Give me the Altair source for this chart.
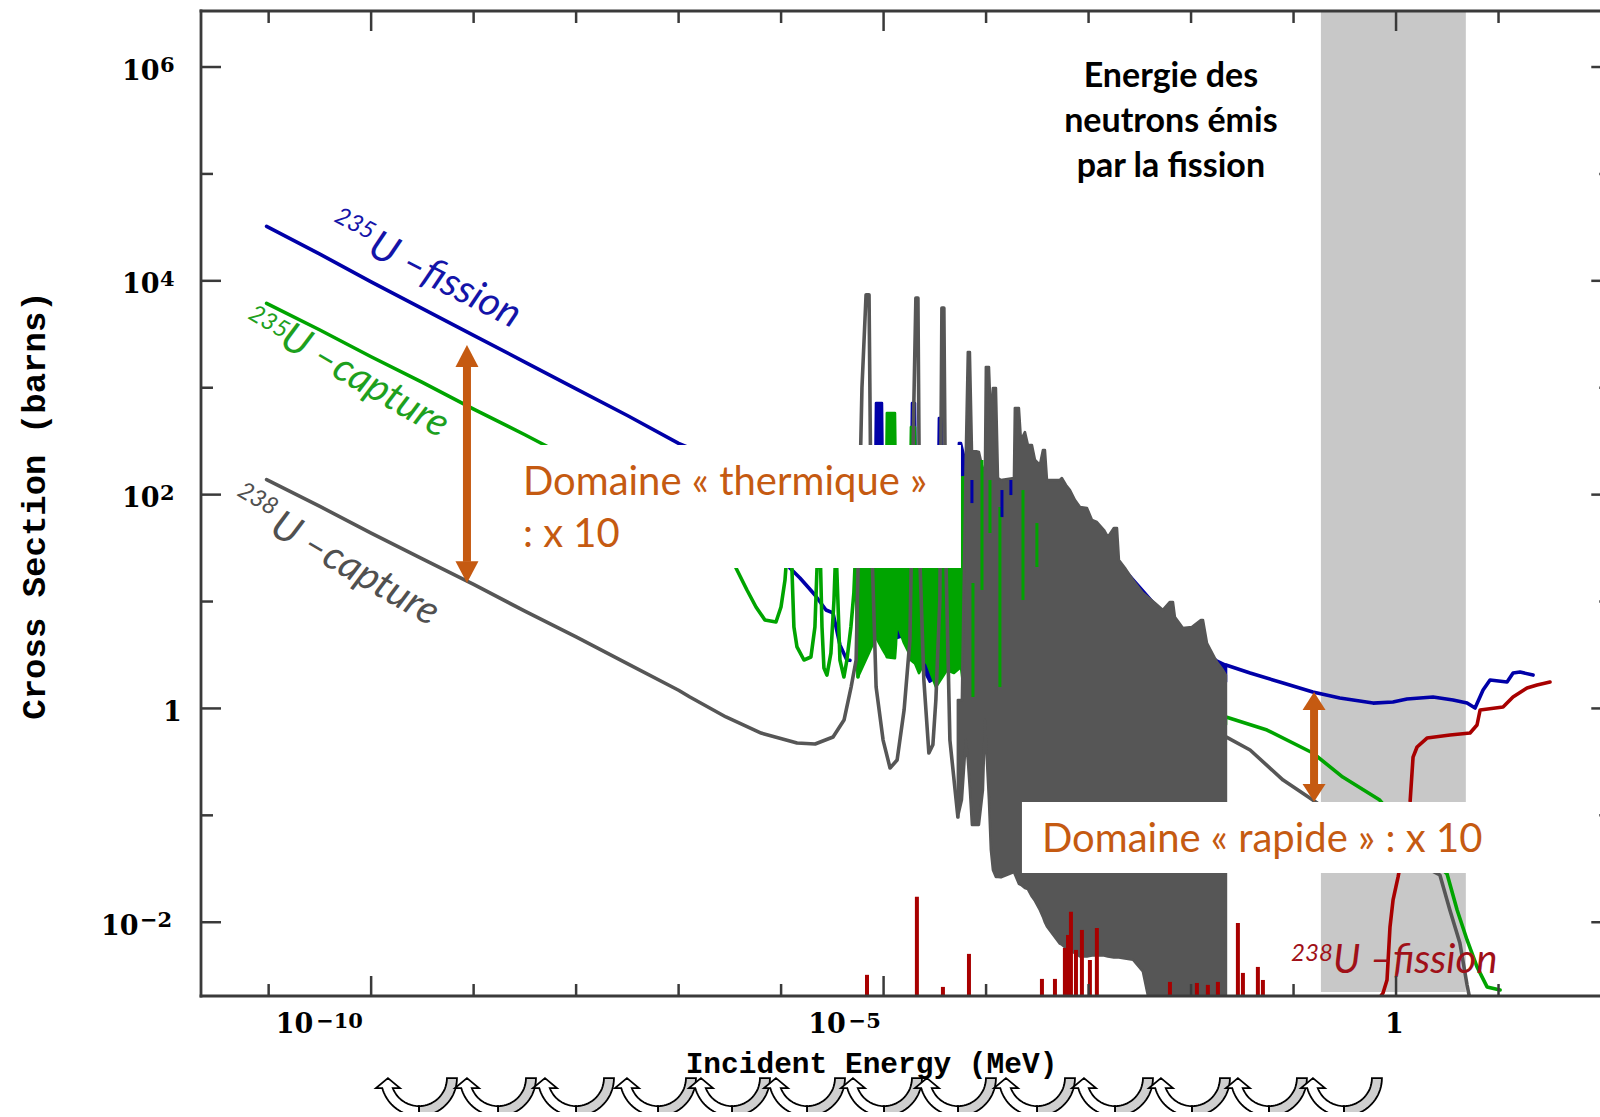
import numpy as np
import pandas as pd
import altair as alt

# ---------------- axis extents (log10 units) ----------------
X_MIN, X_MAX = -11.66, 1.99      # incident energy (MeV)
Y_MIN, Y_MAX = -2.69, 6.524      # cross section (barns)

# tick labels: (decade, mantissa text, exponent text)
Y_LABELS = [(6, "10", "6"), (4, "10", "4"), (2, "10", "2"), (0, "1", ""), (-2, "10", "−2")]
X_LABELS = [(-10, "10", "−10"), (-5, "10", "−5"), (0, "1", "")]

BLUE, GREEN, GRAY, RED = "#0000a8", "#00a400", "#565656", "#a80000"
BAND, ORANGE, AXIS = "#c8c8c8", "#c55a11", "#3a3a3a"

# ---------------- data (log10 E [MeV], log10 sigma [b]) ----------------
# U-235 fission (blue)
u5f_low_logE = [-11.02, -10.5, -10.0, -9.5, -9.0, -8.5, -8.0, -7.5, -7.0, -6.8, -6.6, -6.54,
                -6.48, -6.3, -6.1, -5.914, -5.816, -5.738, -5.67, -5.562, -5.494, -5.426, -5.358, -5.328]
u5f_low_logS = [4.51, 4.25, 3.99, 3.74, 3.49, 3.24, 2.99, 2.74, 2.48, 2.40, 2.35, 2.40,
                2.30, 2.0, 1.6, 1.313, 1.22, 1.136, 1.061, 0.921, 0.893, 0.594, 0.453, 0.45]
u5f_res_logE = [-5.25, -5.143, -5.084, -5.074, -5.016, -5.006, -4.8, -4.733, -4.723, -4.694, -4.684,
                -4.55, -4.47, -4.46, -4.431, -4.421, -4.275, -4.265, -4.245, -4.158, -3.865, -3.328,
                -2.714, -2.1, -1.75, -1.659]
u5f_res_top = [2.0, 2.0, 2.0, 2.857, 2.857, 2.0, 2.0, 2.0, 2.857, 2.857, 2.0,
               2.0, 2.0, 2.717, 2.717, 2.0, 2.0, 2.483, 2.483, 2.137, 2.043, 1.734,
               1.37, 0.7, 0.45, 0.406]
u5f_res_bot = [0.40, 0.60, 0.72, 0.72, 0.62, 0.62, 0.68, 0.55, 0.55, 0.50, 0.50,
               0.25, 0.30, 0.30, 0.30, 0.35, 0.40, 0.40, 0.40, 0.2, 0.1, 0.0,
               0.0, -0.2, 0.1, 0.25]
u5f_fast_logE = [-1.659, -1.424, -1.102, -0.812, -0.549, -0.224, -0.03, 0.107, 0.361, 0.556,
                 0.693, 0.771, 0.849, 0.917, 1.083, 1.142, 1.21, 1.337]
u5f_fast_logS = [0.406, 0.331, 0.238, 0.153, 0.097, 0.05, 0.06, 0.088, 0.107, 0.079,
                 0.05, 0.004, 0.172, 0.266, 0.247, 0.331, 0.34, 0.312]
u5f_strand_logE = [-4.138, -3.845, -3.758]
u5f_strand_top = [2.137, 2.043, 2.137]
u5f_strand_bot = [1.921, 1.79, 1.996]

# U-235 capture (green)
u5c_low_logE = [-11.02, -10.5, -10.0, -9.5, -9.0, -8.5, -8.0, -7.5, -7.0, -6.8, -6.6, -6.54, -6.48,
                -6.44, -6.333, -6.245, -6.158, -6.05, -6.001, -5.962, -5.933, -5.904, -5.875, -5.845,
                -5.777, -5.709, -5.67, -5.64, -5.621, -5.601, -5.582, -5.553, -5.514, -5.484, -5.465,
                -5.446, -5.426, -5.387, -5.358, -5.319, -5.29, -5.27, -5.25]
u5c_low_logS = [3.79, 3.54, 3.29, 3.05, 2.80, 2.56, 2.31, 2.07, 1.85, 1.8, 2.0, 2.2, 1.9,
                1.313, 1.108, 0.949, 0.827, 0.808, 0.949, 1.201, 1.575, 1.575, 0.762, 0.575,
                0.453, 0.481, 0.762, 1.575, 1.575, 0.762, 0.378, 0.312, 0.518, 1.014, 1.528,
                1.014, 0.453, 0.294, 0.453, 0.762, 1.08, 1.528, 0.294]
u5c_res_logE = [-5.25, -5.143, -5.075, -5.006, -4.977, -4.968, -4.889, -4.879, -4.87, -4.801,
                -4.743, -4.733, -4.694, -4.684, -4.655, -4.587, -4.489, -4.382, -4.314, -4.245,
                -4.206, -4.158, -3.865, -3.3, -2.7, -2.1, -1.659]
u5c_res_top = [2.0, 2.0, 2.0, 2.0, 2.0, 2.764, 2.764, 2.0, 2.0, 2.0,
               2.0, 2.633, 2.633, 2.0, 2.0, 2.0, 2.0, 2.0, 2.0, 2.16,
               2.165, 2.2, 1.9, 1.6, 1.2, 0.5, -0.08]
u5c_res_bot = [0.294, 0.518, 0.668, 0.546, 0.5, 0.48, 0.47, 0.6, 0.799, 0.612,
               0.5, 0.45, 0.42, 0.4, 0.331, 0.453, 0.2, 0.359, 0.331, 0.387,
               0.079, 0.1, 0.0, -0.2, -0.3, -0.3, -0.15]
u5c_fast_logE = [-1.659, -1.259, -0.812, -0.52, -0.159, 0.166, 0.498, 0.596, 0.693, 0.79, 0.888, 1.015]
u5c_fast_logS = [-0.08, -0.202, -0.417, -0.642, -0.857, -1.235, -1.548, -1.885, -2.166, -2.418, -2.605, -2.634]
u5c_strand_logE = [-4.128, -4.04, -3.962, -3.865, -3.64, -3.504]
u5c_strand_top = [1.173, 2.324, 2.137, 1.884, 2.043, 1.734]
u5c_strand_bot = [0.107, 1.108, 1.641, 0.2, 1.014, 1.323]

# U-238 capture (gray)
u8c_low_logE = [-11.02, -10.5, -10.0, -9.5, -9.0, -8.5, -8.0, -7.5, -7.0, -6.89, -6.538, -6.195,
                -5.844, -5.668, -5.493, -5.386, -5.317, -5.268, -5.211, -5.171, -5.142, -5.122,
                -5.073, -5.005, -4.937, -4.868, -4.8, -4.743, -4.704, -4.685, -4.665, -4.646,
                -4.607, -4.558, -4.519, -4.49, -4.451, -4.431, -4.412, -4.392, -4.353, -4.275]
u8c_low_logS = [2.14, 1.89, 1.64, 1.40, 1.16, 0.91, 0.67, 0.42, 0.17, 0.107, -0.08, -0.23,
                -0.324, -0.333, -0.267, -0.109, 0.2, 0.453, 3.0, 3.87, 3.87, 1.76,
                0.2, -0.296, -0.557, -0.483, -0.015, 0.64, 2.89, 3.84, 3.84, 1.39,
                0.265, -0.417, -0.34, 0.078, 1.013, 3.745, 3.745, 1.39, -0.296, -1.016]
u8c_res_logE = [-4.275, -4.236, -4.197, -4.178, -4.158, -4.138, -4.07, -4.031, -4.011, -4.002,
                -3.972, -3.953, -3.933, -3.904, -3.884, -3.855, -3.728, -3.719, -3.68, -3.66,
                -3.621, -3.592, -3.553, -3.523, -3.475, -3.445, -3.426, -3.406, -3.28, -3.26,
                -3.221, -3.182, -3.133, -3.084, -3.016, -2.967, -2.919, -2.85, -2.811, -2.753,
                -2.723, -2.704, -2.645, -2.567, -2.47, -2.353, -2.275, -2.206, -2.177, -2.158,
                -2.08, -1.992, -1.904, -1.884, -1.845, -1.748, -1.689, -1.66]
u8c_res_top = [0.079, 0.079, 2.418, 3.334, 3.334, 2.418, 2.399, 2.231, 2.231, 3.194,
               3.194, 2.698, 2.998, 2.998, 2.155, 2.137, 2.155, 2.81, 2.81, 2.51,
               2.585, 2.464, 2.464, 2.324, 2.277, 2.417, 2.417, 2.137, 2.137, 2.155,
               2.09, 2.043, 1.95, 1.884, 1.875, 1.762, 1.744, 1.669, 1.603, 1.688,
               1.688, 1.388, 1.313, 1.201, 1.08, 0.986, 0.921, 0.996, 0.996, 0.855,
               0.752, 0.762, 0.827, 0.827, 0.612, 0.434, 0.359, 0.312]
u8c_res_bot = [-1.016, -0.857, -0.296, -0.483, -0.763, -1.09, -1.09, -0.763, -0.109, -0.296,
               -0.857, -1.324, -1.511, -1.576, -1.576, -1.58, -1.53, -1.55, -1.64, -1.65,
               -1.68, -1.69, -1.76, -1.80, -1.885, -1.95, -2.00, -2.04, -2.20, -2.21,
               -2.24, -2.26, -2.29, -2.32, -2.32, -2.31, -2.31, -2.31, -2.32, -2.33,
               -2.33, -2.33, -2.34, -2.35, -2.46, -3.0, -3.0, -3.0, -3.0, -3.0,
               -3.0, -3.0, -3.0, -3.0, -3.0, -3.0, -3.0, -3.0]
u8c_fast_logE = [-1.659, -1.424, -1.102, -0.812, -0.3, 0.428, 0.525, 0.623, 0.693, 0.722]
u8c_fast_logS = [-0.266, -0.389, -0.67, -0.857, -1.2, -1.558, -1.885, -2.194, -2.587, -2.727]

# U-238 fission (red)
u8f_spike_logE = [-5.162, -4.675, -4.421, -4.167, -3.455, -3.328, -3.231, -3.201, -3.172, -3.123,
                  -3.065, -2.987, -2.919, -2.206, -1.943, -1.836, -1.738, -1.543, -1.494, -1.348, -1.299]
u8f_spike_logS = [-2.492, -1.762, -2.605, -2.296, -2.53, -2.53, -2.24, -2.119, -1.903, -2.259,
                  -2.072, -2.353, -2.054, -2.558, -2.568, -2.586, -2.558, -2.006, -2.474, -2.418, -2.54]
u8f_fast_logE = [-0.176, -0.127, -0.088, -0.059, -0.029, 0.02, 0.088, 0.137, 0.166, 0.205, 0.302,
                 0.527, 0.722, 0.79, 0.82, 1.044, 1.112, 1.141, 1.278, 1.376, 1.502]
u8f_fast_logS = [-2.727, -2.662, -2.54, -2.044, -1.791, -1.576, -1.23, -0.875, -0.455, -0.361, -0.277,
                 -0.249, -0.23, -0.155, -0.015, 0.013, 0.079, 0.107, 0.191, 0.219, 0.247]
SPIKE_FLOOR = -3.2

# fission-neutron energy band
band_logE = [-0.733, 0.681]
band_logS = [-2.653, Y_MAX]

# annotation boxes, arrows
box_thermal = ([-8.645, -4.245], [1.313, 2.464])
box_fast = ([-3.65, 0.964], [-1.54, -0.876])
arrow_logE = [-9.065, -0.8]
arrow_top = [3.399, 0.153]
arrow_bot = [1.173, -0.874]
curl_logE = [-9.553, -8.782, -8.021, -7.221, -6.499, -5.767, -5.016, -4.294, -3.523, -2.762,
             -2.011, -1.26, -0.528]
CURL_LOGS = -3.645

# ---------------- scales & axes ----------------
xscale = alt.Scale(type="log", domain=[10 ** X_MIN, 10 ** X_MAX], nice=False)
yscale = alt.Scale(type="log", domain=[10 ** Y_MIN, 10 ** Y_MAX], nice=False)

x_axis = alt.Axis(labels=False, ticks=False, tickSize=0, domain=False, grid=False,
                  title="Incident Energy (MeV)",
                  titleFont="Liberation Mono", titleFontWeight="bold", titleFontSize=29.5,
                  titleColor="black", titleX=670, titleY=67, titleAlign="center",
                  titleBaseline="middle", titleAngle=0)
y_axis = alt.Axis(labels=False, ticks=False, tickSize=0, domain=False, grid=False,
                  title="Cross Section (barns)",
                  titleFont="Liberation Mono", titleFontWeight="bold", titleFontSize=34,
                  titleColor="black", titleX=-167, titleY=494, titleAlign="center",
                  titleBaseline="middle", titleAngle=270)

def X():
    return alt.X("E:Q", scale=xscale, axis=x_axis)

def Y():
    return alt.Y("S:Q", scale=yscale, axis=y_axis)

def p10(v):
    return np.power(10.0, np.asarray(v, dtype=float))

def pts(le, ls):
    return pd.DataFrame({"E": p10(le), "S": p10(ls), "i": np.arange(len(le))})

def bands(le, top, bot):
    return pd.DataFrame({"E": p10(le), "S": p10(top), "S2": p10(bot), "i": np.arange(len(le))})

LW = 3.6

def line(df, color, w=LW):
    return alt.Chart(df).mark_line(color=color, strokeWidth=w, strokeJoin="round",
                                   strokeCap="round", clip=True).encode(x=X(), y=Y(), order="i:Q")

def area(df, color, w=2.6):
    return alt.Chart(df).mark_area(color=color, stroke=color, strokeWidth=w, strokeJoin="round",
                                   opacity=1, clip=True).encode(x=X(), y=Y(), y2=alt.Y2("S2:Q"))

def vrules(df, color, w):
    return alt.Chart(df).mark_rule(color=color, strokeWidth=w, clip=True).encode(
        x=X(), y=Y(), y2=alt.Y2("S2:Q"))

def rect(le, ls, color):
    df = pd.DataFrame({"E": [10 ** le[0]], "E2": [10 ** le[1]], "S": [10 ** ls[0]], "S2": [10 ** ls[1]]})
    return alt.Chart(df).mark_rect(color=color, opacity=1).encode(
        x=X(), x2=alt.X2("E2:Q"), y=Y(), y2=alt.Y2("S2:Q"))

def label(le, ls, text, **kw):
    df = pd.DataFrame({"E": [10 ** le], "S": [10 ** ls], "t": [text]})
    return alt.Chart(df).mark_text(**kw).encode(x=X(), y=Y(), text="t:N")

layers = []
layers.append(rect(band_logE, band_logS, BAND))

# curves
layers.append(area(bands(u5f_res_logE, u5f_res_top, u5f_res_bot), BLUE))
layers.append(line(pts(u5f_low_logE, u5f_low_logS), BLUE))
layers.append(line(pts(u5f_fast_logE, u5f_fast_logS), BLUE))
layers.append(area(bands(u5c_res_logE, u5c_res_top, u5c_res_bot), GREEN))
layers.append(line(pts(u5c_low_logE, u5c_low_logS), GREEN))
layers.append(line(pts(u5c_fast_logE, u5c_fast_logS), GREEN))
layers.append(line(pts(u8c_low_logE, u8c_low_logS), GRAY))
layers.append(area(bands(u8c_res_logE, u8c_res_top, u8c_res_bot), GRAY))
layers.append(line(pts(u8c_fast_logE, u8c_fast_logS), GRAY))
layers.append(vrules(bands(u5c_strand_logE, u5c_strand_top, u5c_strand_bot), GREEN, 3))
layers.append(vrules(bands(u5f_strand_logE, u5f_strand_top, u5f_strand_bot), BLUE, 3))
layers.append(line(pts(u8f_fast_logE, u8f_fast_logS), RED))
layers.append(vrules(bands(u8f_spike_logE, u8f_spike_logS, [SPIKE_FLOOR] * len(u8f_spike_logE)), RED, 4))

# annotation boxes
layers.append(rect(*box_thermal, "white"))
layers.append(rect(*box_fast, "white"))

# texts
ENERGIE_LOGE = -2.197
for txt, ls in [("Energie des", 5.813), ("neutrons émis", 5.392), ("par la fission", 4.971)]:
    layers.append(label(ENERGIE_LOGE, ls, txt, font="Lato", fontWeight="bold", fontSize=34,
                        color="black", align="center", baseline="alphabetic"))
orange_kw = dict(font="Lato", fontSize=40, color=ORANGE, align="left", baseline="alphabetic")
layers.append(label(-8.519, 1.996, "Domaine « thermique »", **orange_kw))
layers.append(label(-8.519, 1.51, ": x 10", **orange_kw))
layers.append(label(-3.455, -1.343, "Domaine « rapide » : x 10", **orange_kw))

curve_labels = [
    # (sup logE, sup logS, main logE, main logS, mass, text, angle, color)
    (-10.372, 4.559, -10.05, 4.251, "235", "U –fission", 27, "#1414a8"),
    (-11.211, 3.652, -10.909, 3.40, "235", "U –capture", 30, "#1ea01e"),
    (-11.319, 1.996, -11.006, 1.641, "238", "U –capture", 30, "#505050"),
    (-1.024, -2.363, -0.615, -2.475, "238", "U –fission", 0, "#a01018"),
]
for sle, sls, mle, mls, mass, txt, ang, col in curve_labels:
    layers.append(label(sle, sls, mass, font="Lato", fontStyle="italic", fontSize=24, color=col,
                        align="left", baseline="alphabetic", angle=ang))
    layers.append(label(mle, mls, txt, font="Lato", fontStyle="italic", fontSize=40, color=col,
                        align="left", baseline="alphabetic", angle=ang))

# orange double arrows
HEAD = [0.2, 0.16]
arr = pd.DataFrame({"E": p10(arrow_logE), "S": p10(np.array(arrow_top) - np.array(HEAD)),
                    "S2": p10(np.array(arrow_bot) + np.array(HEAD))})
layers.append(alt.Chart(arr).mark_rule(color=ORANGE, strokeWidth=8).encode(
    x=X(), y=Y(), y2=alt.Y2("S2:Q")))
for k, hl in enumerate([1.9, 1.55]):
    up = pd.DataFrame({"E": [10 ** arrow_logE[k]], "S": [10 ** arrow_top[k]]})
    dn = pd.DataFrame({"E": [10 ** arrow_logE[k]], "S": [10 ** arrow_bot[k]]})
    layers.append(alt.Chart(up).mark_point(shape=f"M0,0L1,{hl}L-1,{hl}Z", size=529, filled=True,
                                           color=ORANGE, opacity=1, strokeWidth=0).encode(x=X(), y=Y()))
    layers.append(alt.Chart(dn).mark_point(shape=f"M0,0L1,-{hl}L-1,-{hl}Z", size=529, filled=True,
                                           color=ORANGE, opacity=1, strokeWidth=0).encode(x=X(), y=Y()))

# frame and inward ticks
rows = [(X_MIN, X_MIN, Y_MIN, Y_MAX), (X_MIN, X_MAX, Y_MIN, Y_MIN), (X_MIN, X_MAX, Y_MAX, Y_MAX)]
frame = pd.DataFrame(rows, columns=["a", "b", "c", "d"])
frame_df = pd.DataFrame({"E": p10(frame.a), "E2": p10(frame.b), "S": p10(frame.c), "S2": p10(frame.d)})
layers.append(alt.Chart(frame_df).mark_rule(color=AXIS, strokeWidth=2.8, strokeCap="square").encode(
    x=X(), x2=alt.X2("E2:Q"), y=Y(), y2=alt.Y2("S2:Q")))

RIGHT_AXIS = 2.1
trows = []
for k in range(-11, 2):
    L = 0.187 if k in (-10, -5, 0) else 0.112
    trows.append((k, k, Y_MIN, Y_MIN + L))
    trows.append((k, k, Y_MAX, Y_MAX - L))
for k in range(-2, 7):
    L = 0.195 if k % 2 == 0 else 0.117
    trows.append((X_MIN, X_MIN + L, k, k))
    trows.append((RIGHT_AXIS - L, X_MAX, k, k))
t = pd.DataFrame(trows, columns=["a", "b", "c", "d"])
tick_df = pd.DataFrame({"E": p10(t.a), "E2": p10(t.b), "S": p10(t.c), "S2": p10(t.d)})
layers.append(alt.Chart(tick_df).mark_rule(color=AXIS, strokeWidth=2.5).encode(
    x=X(), x2=alt.X2("E2:Q"), y=Y(), y2=alt.Y2("S2:Q")))

# tick labels with real superscript exponents
lab_font = dict(font="DejaVu Serif", fontWeight="bold", color="black", align="left",
                baseline="alphabetic")
Y_DX = {6: (-79, -41), 4: (-79, -41), 2: (-79, -41), 0: (-38, 0), -2: (-100, -61)}
for k, base, ex in Y_LABELS:
    bdx, edx = Y_DX[k]
    layers.append(label(X_MIN, k, base, fontSize=27, dx=bdx, dy=12.5, **lab_font))
    if ex:
        layers.append(label(X_MIN, k, ex, fontSize=21, dx=edx, dy=5, **lab_font))
X_DX = {-10: (-95.5, -55), -5: (-75.4, -35), 0: (-11, 0)}
for k, base, ex in X_LABELS:
    bdx, edx = X_DX[k]
    layers.append(label(k, Y_MIN, base, fontSize=27, dx=bdx, dy=37, **lab_font))
    if ex:
        layers.append(label(k, Y_MIN, ex, fontSize=21, dx=edx, dy=31.5, **lab_font))

# decorative curved arrows under the axis
U = 40.0
def arc(cx, cy, a, b, t0, t1, n=22):
    tt = np.linspace(t0, t1, n)
    return list(zip(cx + a * np.cos(tt), cy + b * np.sin(tt)))
ti = np.pi - np.arcsin(10 / 28)
to = np.pi - np.arcsin(10 / 38)
white_pts = [(-29, -20), (-17, -10)] + arc(2, -20, 28, 28, ti, np.pi / 2) + \
            arc(2, -20, 38, 38, np.pi / 2, to) + [(-41, -10)]
gray_pts = arc(2, -20, 28, 28, np.pi / 2, 0) + arc(2, -20, 38, 38, 0, np.pi / 2)
def to_path(p):
    return "M" + "L".join(f"{x / U:.3f},{y / U:.3f}" for x, y in p) + "Z"
curl_df = pd.DataFrame({"E": p10(curl_logE), "S": [10 ** CURL_LOGS] * len(curl_logE)})
layers.append(alt.Chart(curl_df).mark_point(shape=to_path(gray_pts), size=(2 * U) ** 2, filled=True,
                                            color="#cfcfcf", stroke="black", strokeWidth=1.8,
                                            opacity=1).encode(x=X(), y=Y()))
layers.append(alt.Chart(curl_df).mark_point(shape=to_path(white_pts), size=(2 * U) ** 2, filled=True,
                                            color="white", stroke="black", strokeWidth=1.8,
                                            opacity=1).encode(x=X(), y=Y()))

chart = alt.layer(*layers).properties(
    width=1399, height=985,
    padding={"left": 201, "top": 11, "right": 0, "bottom": 116},
    autosize=alt.AutoSizeParams(type="none"),
    background="white",
).configure_view(strokeWidth=0)

chart.save("out.html", embed_options={"renderer": "svg", "actions": False})
